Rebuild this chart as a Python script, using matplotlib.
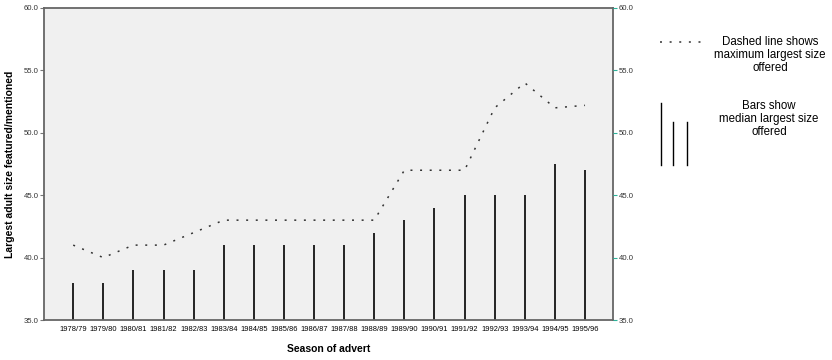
import matplotlib.pyplot as plt
from matplotlib.lines import Line2D

plt.rcParams["font.family"] = ["Liberation Sans", "DejaVu Sans"]

seasons = ["1978/79", "1979/80", "1980/81", "1981/82", "1982/83", "1983/84",
           "1984/85", "1985/86", "1986/87", "1987/88", "1988/89", "1989/90",
           "1990/91", "1991/92", "1992/93", "1993/94", "1994/95", "1995/96"]
median_size = [38, 38, 39, 39, 39, 41, 41, 41, 41, 41, 42, 43, 44, 45, 45, 45, 47.5, 47]
max_size = [41, 40, 41, 41, 42, 43, 43, 43, 43, 43, 43, 47, 47, 47, 52, 54, 52, 52.2]
yticks = [35.0, 40.0, 45.0, 50.0, 55.0, 60.0]

fig = plt.figure(figsize=(8.32, 3.6), dpi=100)
ax = fig.add_axes([44 / 832, 40 / 360, 569 / 832, 312 / 360])
ax.set_facecolor("#f0f0f0")

x = list(range(len(seasons)))
ax.vlines(x, 35, median_size, colors="black", linewidth=1.2)
ax.plot(x, max_size, color="#333333", linewidth=1.1, linestyle=(0, (1.3, 5)))

ax.set_xlim(-0.97, len(seasons) - 0.07)
ax.set_ylim(35, 60)
ax.set_xticks(x)
ax.set_xticklabels(seasons, fontsize=5.4)
ax.set_yticks(yticks)
ax.set_yticklabels([f"{v:.1f}" for v in yticks], fontsize=5.6, color="#333333")
ax.tick_params(axis="x", length=0, pad=4)
ax.tick_params(axis="y", length=3, color="#777777", pad=1)
for s in ax.spines.values():
    s.set_color("#666666")
    s.set_linewidth(1.3)

ax2 = ax.twinx()
ax2.set_ylim(35, 60)
ax2.set_yticks(yticks)
ax2.set_yticklabels([f"{v:.1f}" for v in yticks], fontsize=5.6, color="#333333")
ax2.tick_params(axis="y", length=3, color="#2bb39a", pad=1)
for s in ax2.spines.values():
    s.set_visible(False)

ax.set_ylabel("Largest adult size featured/mentioned", fontsize=7.5,
              fontweight="bold", labelpad=6)
ax.set_xlabel("Season of advert", fontsize=7.5, fontweight="bold", labelpad=8)

# legend-like notes on the right
fig.add_artist(Line2D([660 / 832, 705 / 832], [1 - 42 / 360, 1 - 42 / 360],
                      color="#333333", linewidth=1.1, linestyle=(0, (1.3, 5))))
for lx, ly in [(661, 103), (673, 122), (687, 122)]:
    fig.add_artist(Line2D([lx / 832, lx / 832], [1 - ly / 360, 1 - 165 / 360],
                          color="black", linewidth=1.0))
fig.text(770 / 832, 1 - 55 / 360, "Dashed line shows\nmaximum largest size\noffered",
         ha="center", va="center", fontsize=8.3, linespacing=1.15)
fig.text(769 / 832, 1 - 119 / 360, "Bars show\nmedian largest size\noffered",
         ha="center", va="center", fontsize=8.3, linespacing=1.15)

fig.savefig("out.png", dpi=100)
